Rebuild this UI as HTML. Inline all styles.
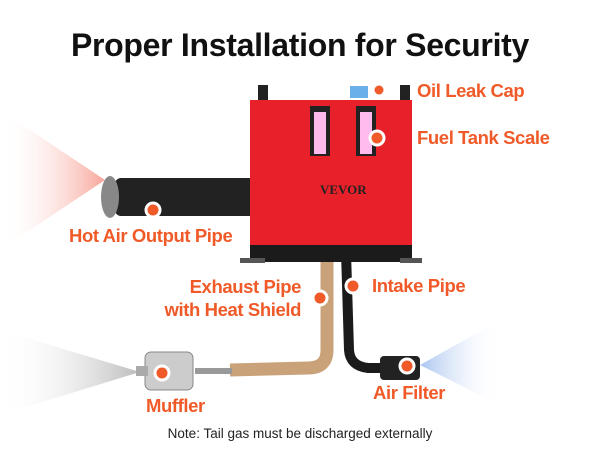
<!DOCTYPE html>
<html><head><style>
body{margin:0;width:600px;height:450px;background:#fff;position:relative;overflow:hidden;font-family:"Liberation Sans",sans-serif}
.t{position:absolute;color:#f05a28;font-weight:bold;font-size:18.5px;white-space:nowrap;letter-spacing:-0.4px}
</style></head><body>
<svg width="600" height="450" style="position:absolute;left:0;top:0">
<defs>
<linearGradient id="r" x1="1" x2="0"><stop offset="0" stop-color="#f7a59a"/><stop offset="1" stop-color="#fff" stop-opacity="0"/></linearGradient>
<linearGradient id="g" x1="1" x2="0"><stop offset="0" stop-color="#bbb"/><stop offset="1" stop-color="#fff" stop-opacity="0"/></linearGradient>
<linearGradient id="b" x1="0" x2="1"><stop offset="0" stop-color="#a9c4ef"/><stop offset="1" stop-color="#fff" stop-opacity="0"/></linearGradient>
</defs>
<polygon points="105,180 0,110 0,250" fill="url(#r)"/>
<polygon points="140,372 0,330 0,415" fill="url(#g)"/>
<polygon points="420,365 500,320 500,405" fill="url(#b)"/>
<rect x="115" y="178" width="140" height="38" rx="6" fill="#222"/>
<ellipse cx="110" cy="197" rx="9" ry="21" fill="#888"/>
<path d="M327,252 L327,350 Q327,368 308,368 L230,370" stroke="#c9a27a" stroke-width="13" fill="none"/>
<path d="M195,371 L232,371" stroke="#999" stroke-width="6"/>
<path d="M346,252 L349,350 Q350,366 368,368 L385,368" stroke="#1b1b1b" stroke-width="10" fill="none"/>
<rect x="380" y="356" width="40" height="24" rx="4" fill="#222"/>
<rect x="145" y="352" width="48" height="38" rx="6" fill="#ccc" stroke="#888"/>
<rect x="136" y="366" width="12" height="10" fill="#aaa"/>
<rect x="258" y="85" width="10" height="18" fill="#222"/>
<rect x="400" y="85" width="10" height="18" fill="#222"/>
<rect x="350" y="86" width="18" height="12" fill="#6ab0e8"/>
<rect x="250" y="100" width="162" height="145" fill="#e8202a"/>
<rect x="310" y="106" width="20" height="50" fill="#222"/><rect x="314" y="112" width="12" height="42" fill="#fbe"/>
<rect x="356" y="106" width="20" height="50" fill="#222"/><rect x="360" y="112" width="12" height="42" fill="#fbe"/>
<text x="320" y="194" font-family="Liberation Serif" font-weight="bold" font-size="13" fill="#222">VEVOR</text>
<rect x="250" y="245" width="162" height="17" fill="#1b1b1b"/>
<rect x="240" y="258" width="25" height="5" fill="#555"/><rect x="400" y="258" width="22" height="5" fill="#555"/>
<g fill="#f05a28" stroke="#fff" stroke-width="3">
<circle cx="379" cy="90" r="6"/><circle cx="377" cy="138" r="7"/><circle cx="153" cy="210" r="7"/>
<circle cx="320" cy="298" r="7"/><circle cx="353" cy="286" r="7"/><circle cx="162" cy="373" r="7"/><circle cx="407" cy="366" r="7"/>
</g>
</svg>
<div style="position:absolute;left:0;width:600px;top:27px;text-align:center;font-weight:bold;font-size:32px;color:#111;letter-spacing:-0.3px">Proper Installation for Security</div>
<div class="t" style="left:417px;top:80px">Oil Leak Cap</div>
<div class="t" style="left:417px;top:127px">Fuel Tank Scale</div>
<div class="t" style="left:69px;top:225px">Hot Air Output Pipe</div>
<div class="t" style="left:150px;top:275px;width:151px;text-align:right;line-height:23px">Exhaust Pipe<br>with Heat Shield</div>
<div class="t" style="left:372px;top:275px">Intake Pipe</div>
<div class="t" style="left:146px;top:395px">Muffler</div>
<div class="t" style="left:373px;top:382px">Air Filter</div>
<div style="position:absolute;left:0;width:600px;top:426px;text-align:center;font-size:13.5px;color:#222">Note: Tail gas must be discharged externally</div>
</body></html>
